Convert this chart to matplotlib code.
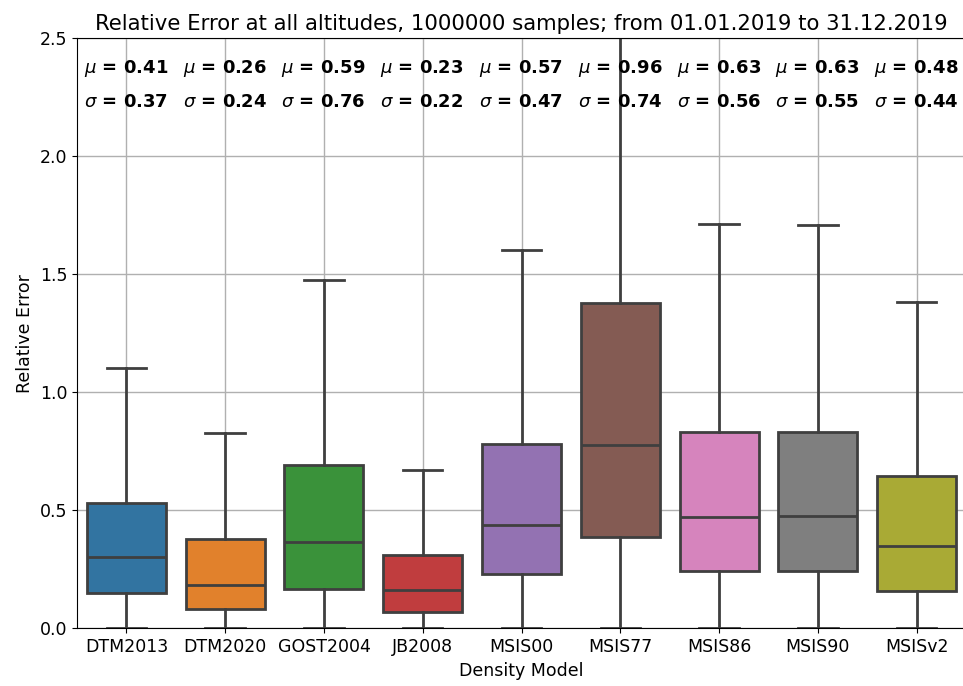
import colorsys
import matplotlib
matplotlib.use('Agg')
import matplotlib.pyplot as plt
import matplotlib.colors as mcolors

# Box statistics
models = ['DTM2013', 'DTM2020', 'GOST2004', 'JB2008', 'MSIS00',
          'MSIS77', 'MSIS86', 'MSIS90', 'MSISv2']
q1 = [0.148, 0.080, 0.165, 0.070, 0.229, 0.386, 0.244, 0.244, 0.158]
median = [0.303, 0.183, 0.367, 0.162, 0.438, 0.778, 0.473, 0.477, 0.350]
q3 = [0.530, 0.378, 0.690, 0.310, 0.780, 1.377, 0.830, 0.830, 0.645]
whis_lo = [0.0, 0.0, 0.0, 0.0, 0.0, 0.0, 0.0, 0.0, 0.0]
whis_hi = [1.103, 0.829, 1.476, 0.671, 1.603, 2.860, 1.712, 1.708, 1.381]
mean_vals = [0.41, 0.26, 0.59, 0.23, 0.57, 0.96, 0.63, 0.63, 0.48]
std_vals = [0.37, 0.24, 0.76, 0.22, 0.47, 0.74, 0.56, 0.55, 0.44]

palette = ['tab:blue', 'tab:orange', 'tab:green', 'tab:red', 'tab:purple',
           'tab:brown', 'tab:pink', 'tab:gray', 'tab:olive']


def desaturate(c, prop=0.75):
    r, g, b = mcolors.to_rgb(c)
    h, l, s = colorsys.rgb_to_hls(r, g, b)
    return colorsys.hls_to_rgb(h, l, s * prop)


stats = []
for i, m in enumerate(models):
    stats.append({'label': m, 'q1': q1[i], 'med': median[i], 'q3': q3[i],
                  'whislo': whis_lo[i], 'whishi': whis_hi[i], 'fliers': []})

fig = plt.figure(figsize=(9.63, 6.86), dpi=100)
ax = fig.add_axes([77 / 963, 57.7 / 686, 889 / 963, 590 / 686])

line_col = '#3f3f3f'
bp = ax.bxp(stats, positions=range(len(models)), widths=0.8, capwidths=0.4,
            patch_artist=True, showfliers=False,
            boxprops=dict(edgecolor=line_col, linewidth=2),
            medianprops=dict(color=line_col, linewidth=2),
            whiskerprops=dict(color=line_col, linewidth=2),
            capprops=dict(color=line_col, linewidth=2))
for patch, c in zip(bp['boxes'], palette):
    patch.set_facecolor(desaturate(c))

ax.set_xlim(-0.5, len(models) - 0.5)
ax.set_ylim(0, 2.5)
ax.grid(True, color='#b0b0b0', linewidth=1)

for i in range(len(models)):
    ax.text(i - 0.43, 2.373, r'$\mu$ = ' + f'{mean_vals[i]:.2f}',
            fontsize=13, fontweight='bold', ha='left', va='center')
    ax.text(i - 0.43, 2.229, r'$\sigma$ = ' + f'{std_vals[i]:.2f}',
            fontsize=13, fontweight='bold', ha='left', va='center')

ax.set_title('Relative Error at all altitudes, 1000000 samples; '
             'from 01.01.2019 to 31.12.2019', fontsize=15.3)
ax.set_xlabel('Density Model', fontsize=12.5)
ax.set_ylabel('Relative Error', fontsize=12.5)
ax.tick_params(labelsize=12.5)
ax.set_yticks([0.0, 0.5, 1.0, 1.5, 2.0, 2.5])

fig.savefig('out.png', dpi=100)
